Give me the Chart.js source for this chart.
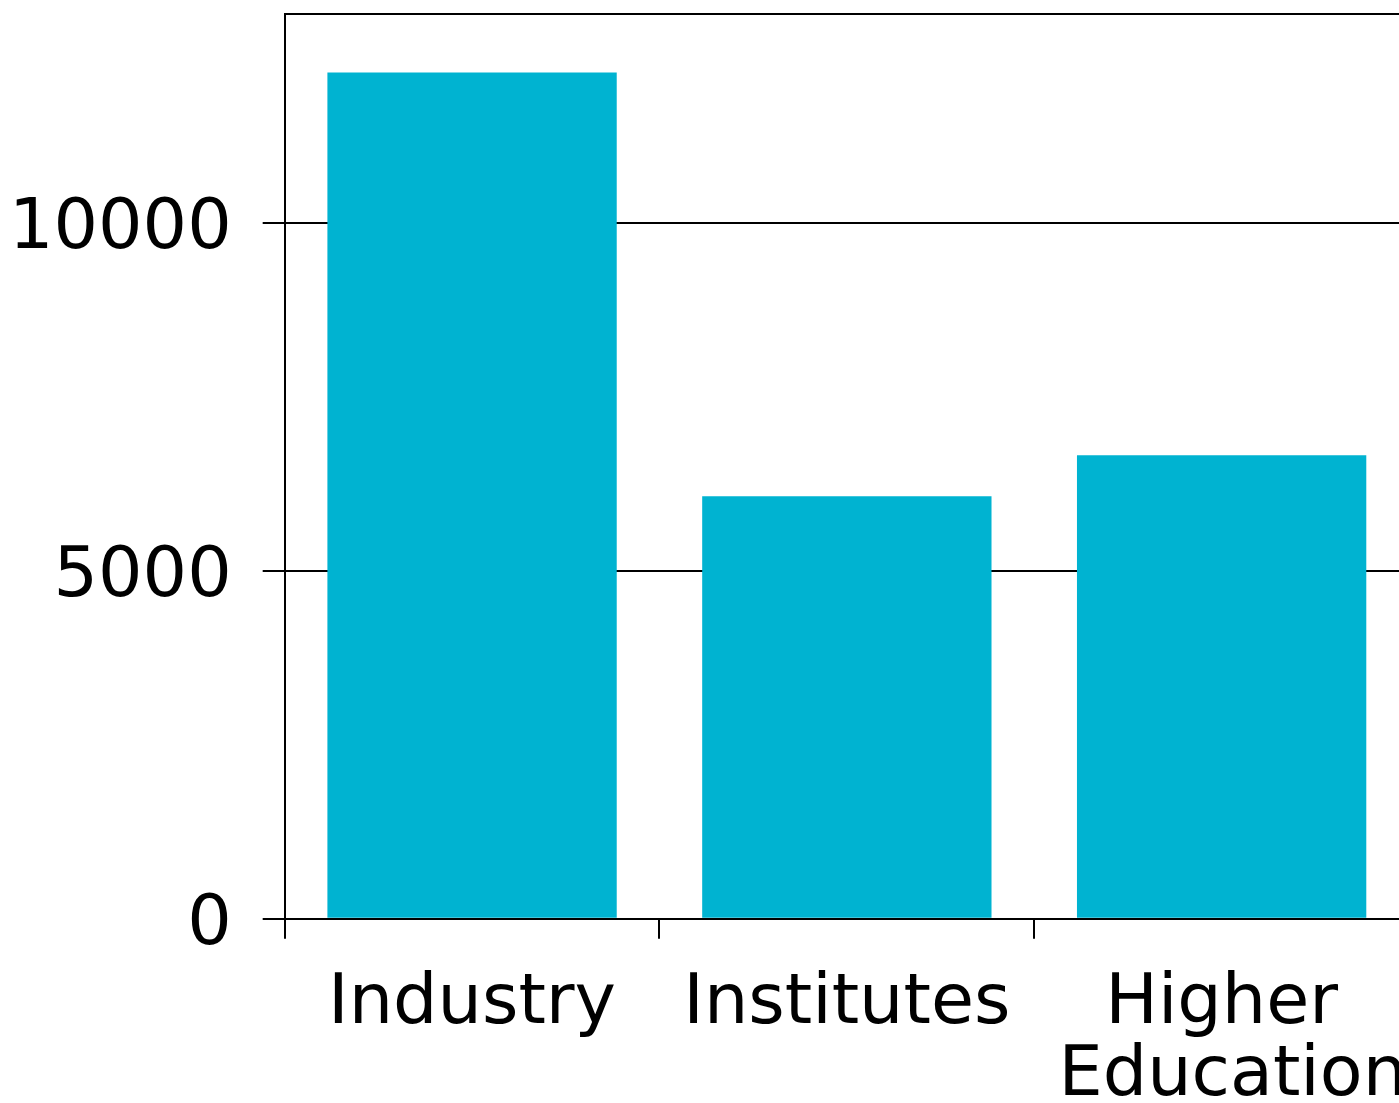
<!DOCTYPE html>
<html>
<head>
<meta charset="utf-8">
<script src="https://cdn.jsdelivr.net/npm/chart.js@4/dist/chart.umd.min.js"></script>
<style>
  html, body { margin: 0; padding: 0; background: #fff; overflow: hidden; width: 1399px; height: 1103px; }
  #wrap { position: absolute; left: -28px; top: -52px; width: 1465px; height: 1195px; }
</style>
</head>
<body>
<div id="wrap"><canvas id="c"></canvas></div>
<script>
const categories = [['Industry'], ['Institutes'], ['Higher', ' Education']];
const values = [12160, 6070, 6660];
const tickValues = [0, 5000, 10000, 13000];
const tickLabels = ['0', '5000', '10000', ''];

Chart.defaults.font.family = 'DejaVu Sans';
Chart.defaults.color = '#000';

new Chart(document.getElementById('c'), {
  type: 'bar',
  data: {
    labels: categories,
    datasets: [{
      data: values,
      backgroundColor: '#00B3D1',
      borderWidth: 0,
      categoryPercentage: 1,
      barPercentage: 0.772
    }]
  },
  options: {
    responsive: true,
    maintainAspectRatio: false,
    animation: false,
    devicePixelRatio: 1,
    layout: { padding: { left: 6, top: 14, right: 0, bottom: 0 } },
    plugins: { legend: { display: false }, tooltip: { enabled: false } },
    scales: {
      x: {
        grid: { display: true, drawOnChartArea: false, drawTicks: true, tickLength: 20, color: '#000', lineWidth: 2, offset: true },
        border: { display: false },
        ticks: { font: { size: 70, lineHeight: 1.03 }, color: '#000', padding: 30, maxRotation: 0, autoSkip: false }
      },
      y: {
        min: 0,
        max: 13000,
        afterBuildTicks: (scale) => { scale.ticks = tickValues.map(v => ({ value: v })); },
        grid: {
          color: '#000', lineWidth: 2, tickLength: 22,
          tickColor: (ctx) => (ctx.tick && ctx.tick.value === 13000 ? 'rgba(0,0,0,0)' : '#000')
        },
        border: { display: true, color: '#000', width: 2 },
        ticks: {
          font: { size: 70, lineHeight: 1.0 }, color: '#000', padding: 31, labelOffset: 7,
          callback: (v, i) => tickLabels[tickValues.indexOf(v)]
        }
      }
    }
  }
});
</script>
</body>
</html>
